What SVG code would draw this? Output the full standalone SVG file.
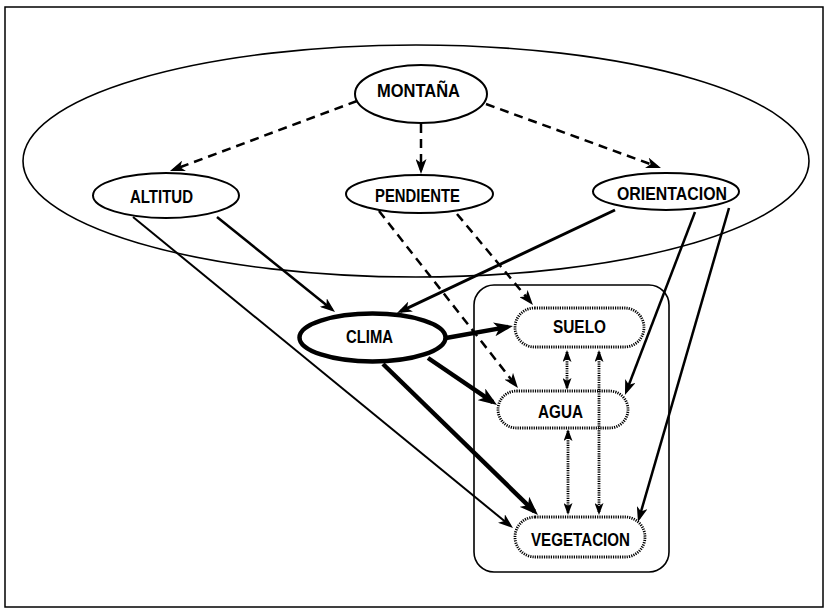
<svg xmlns="http://www.w3.org/2000/svg" width="827" height="611" viewBox="0 0 827 611">
<style>
text{font-family:"Liberation Sans",Arial,sans-serif;font-weight:bold;font-size:17.5px;text-anchor:middle;fill:#000}
.n{fill:#fff;stroke:#000;stroke-width:2}
.d{fill:#fff;stroke:#000;stroke-width:2.8;stroke-dasharray:1.2 1.1}
.dash{fill:none;stroke:#000;stroke-width:2.5;stroke-dasharray:9 6;marker-end:url(#a)}
.s{fill:none;stroke:#000;stroke-width:2.5;marker-end:url(#a)}
.t{fill:none;stroke:#000;stroke-width:4.5;marker-end:url(#b)}
.dot{fill:none;stroke:#000;stroke-width:2.8;stroke-dasharray:1.2 1.1;marker-start:url(#c);marker-end:url(#c)}
</style>
<defs>
<marker id="a" viewBox="0 0 15 11" refX="11" refY="5.5" markerWidth="15" markerHeight="11" markerUnits="userSpaceOnUse" orient="auto"><path d="M0,0 L15,5.5 L0,11 L4,5.5 z" fill="#000"/></marker>
<marker id="b" viewBox="0 0 19 14" refX="14" refY="7" markerWidth="19" markerHeight="14" markerUnits="userSpaceOnUse" orient="auto"><path d="M0,0 L19,7 L0,14 L5,7 z" fill="#000"/></marker>
<marker id="c" viewBox="0 0 12 9" refX="10" refY="4.5" markerWidth="12" markerHeight="9" markerUnits="userSpaceOnUse" orient="auto-start-reverse"><path d="M0,0 L12,4.5 L0,9 L3,4.5 z" fill="#000"/></marker>
</defs>
<rect x="5" y="7" width="818" height="600" fill="#fff" stroke="#000" stroke-width="1.5"/>
<g id="mountain-zone"><ellipse cx="416" cy="161" rx="393" ry="116" fill="none" stroke="#000" stroke-width="1.6"/></g>
<g id="box"><rect x="474" y="285" width="195" height="287" rx="20" fill="none" stroke="#000" stroke-width="1.6"/></g>
<g id="connectors">
<path class="dash" d="M357,101 L173.7,169.6"/>
<path class="dash" d="M421,124 L421,170"/>
<path class="dash" d="M486,104 L657.2,166.6"/>
<path class="s" d="M217,217 L331.9,309.5"/>
<path class="s" style="stroke-width:2" d="M133,217 L509.9,525.5"/>
<path class="dash" d="M457,214 L530.4,301.9"/>
<path class="dash" d="M379,211 L515.5,384.9"/>
<path class="s" style="stroke-width:3" d="M615,210 L400.6,311.3"/>
<path class="s" d="M695,212 L626.4,391.3"/>
<path class="s" d="M729,208 L639.1,518.2"/>
</g>
<g id="clima"><ellipse cx="372.5" cy="337.5" rx="73" ry="24" fill="#fff" stroke="#000" stroke-width="4.5"/><text x="369.5" y="343" textLength="47" lengthAdjust="spacingAndGlyphs">CLIMA</text></g>
<g id="connectors-thick">
<path class="t" d="M446,338 L508,326.9"/>
<path class="t" d="M428,358 L492.9,402.2"/>
<path class="t" d="M383,364 L534.4,511.5"/>
</g>
<g id="montana"><ellipse class="n" cx="421" cy="94" rx="66" ry="29"/><text x="418.5" y="97" textLength="83" lengthAdjust="spacingAndGlyphs">MONTAÑA</text></g>
<g id="altitud"><ellipse class="n" cx="166" cy="195.5" rx="73" ry="22.5"/><text x="161.5" y="203" textLength="63" lengthAdjust="spacingAndGlyphs">ALTITUD</text></g>
<g id="pendiente"><ellipse class="n" cx="419.5" cy="194" rx="73.5" ry="19"/><text x="417.5" y="202" textLength="85" lengthAdjust="spacingAndGlyphs">PENDIENTE</text></g>
<g id="orientacion"><ellipse class="n" cx="666" cy="191.5" rx="73" ry="18.5"/><text x="672" y="200" textLength="110" lengthAdjust="spacingAndGlyphs">ORIENTACION</text></g>
<g id="suelo"><rect class="d" x="515" y="308" width="129" height="39" rx="19.5"/><text x="579.5" y="333" textLength="53" lengthAdjust="spacingAndGlyphs">SUELO</text></g>
<g id="agua"><rect class="d" x="498" y="391" width="130" height="37" rx="18.5"/><text x="560.5" y="418" textLength="45" lengthAdjust="spacingAndGlyphs">AGUA</text></g>
<g id="vegetacion"><rect class="d" x="515" y="517" width="130" height="40" rx="20"/><text x="580.5" y="546" textLength="99" lengthAdjust="spacingAndGlyphs">VEGETACION</text></g>
<g id="connectors-dotted">
<path class="dot" d="M567,352 L567,388"/>
<path class="dot" d="M599,352 L599,513"/>
<path class="dot" d="M568,431 L568,513"/>
</g>
</svg>
